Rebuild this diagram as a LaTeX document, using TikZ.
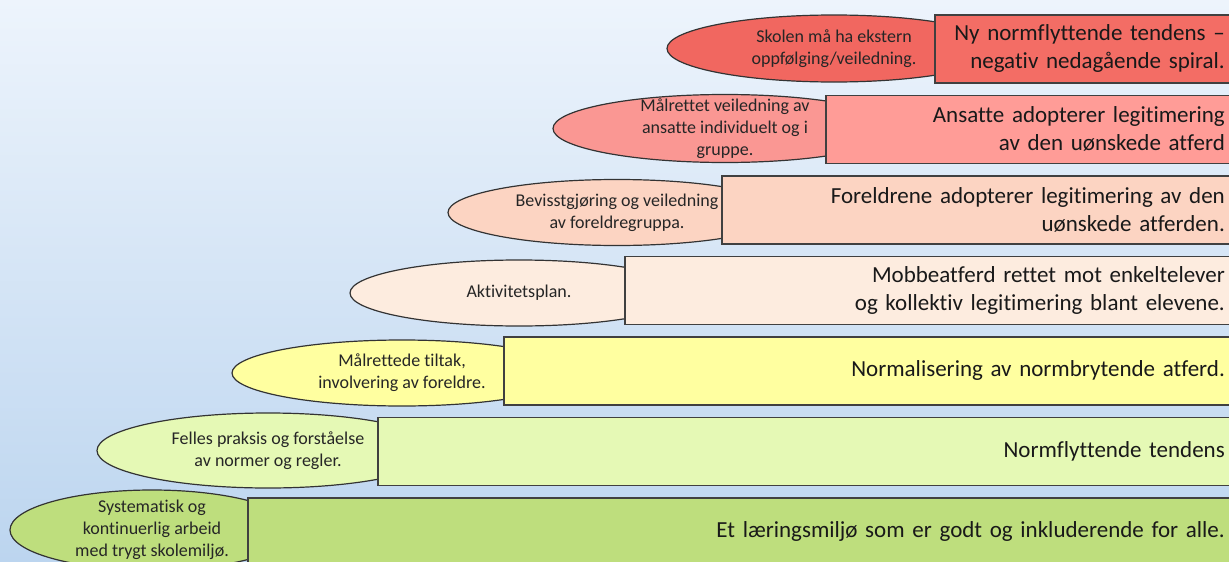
\documentclass[tikz,border=0pt]{standalone}
\usepackage{fontspec}
\setmainfont{Carlito}[Ligatures={NoCommon}]
\usepackage{tikz}
\usetikzlibrary{shapes.geometric, positioning}

\definecolor{bgtop}{RGB}{237,244,252}
\definecolor{bgbottom}{RGB}{188,213,239}
\definecolor{rad1}{RGB}{241,103,96}
\definecolor{rad1b}{RGB}{243,109,101}
\definecolor{rad2}{RGB}{250,151,147}
\definecolor{rad2b}{RGB}{255,156,151}
\definecolor{rad3}{RGB}{252,212,194}
\definecolor{rad4}{RGB}{253,236,223}
\definecolor{rad5}{RGB}{255,255,160}
\definecolor{rad6}{RGB}{229,249,181}
\definecolor{rad7}{RGB}{190,222,125}

\begin{document}
\begin{tikzpicture}[x=1pt,y=-1pt]
	\tikzstyle{tiltak}=[ellipse, draw=black!80, line width=1.2pt, inner sep=0pt]
	\tikzstyle{tiltaktekst}=[align=center, inner sep=0pt, text=black!85, font=\fontsize{18}{22}\selectfont]
	\tikzstyle{norm}=[rectangle, draw=black!75, line width=1.6pt, anchor=north west, minimum height=68pt, inner xsep=8pt, align=right, text=black!90, font=\fontsize{23}{28}\selectfont]
	
	\useasboundingbox (0,0) rectangle (1229,562);
	\clip (0,0) rectangle (1229,562);
	\fill[top color=bgtop, bottom color=bgbottom] (0,0) rectangle (1229,562);
	
	% tiltak (ellipser)
	\node[tiltak, fill=rad1, minimum width=334pt, minimum height=67pt] (t1) at (834,48.5) {};
	\node[tiltak, fill=rad2, minimum width=344pt, minimum height=68pt] (t2) at (725,128.5) {};
	\node[tiltak, fill=rad3, minimum width=338pt, minimum height=66pt] (t3) at (617,212.5) {};
	\node[tiltak, fill=rad4, minimum width=338pt, minimum height=66pt] (t4) at (519,293) {};
	\node[tiltak, fill=rad5, minimum width=340pt, minimum height=66pt] (t5) at (402,373) {};
	\node[tiltak, fill=rad6, minimum width=342pt, minimum height=75pt] (t6) at (268,450.5) {};
	\node[tiltak, fill=rad7, minimum width=284pt, minimum height=80pt] (t7) at (152,530) {};
	
	\node[tiltaktekst] at (t1) {Skolen må ha ekstern\\oppfølging/veiledning.};
	\node[tiltaktekst] at (t2) {Målrettet veiledning av\\ansatte individuelt og i\\gruppe.};
	\node[tiltaktekst] at (t3) {Bevisstgjøring og veiledning\\av foreldregruppa.};
	\node[tiltaktekst] at (t4) {Aktivitetsplan.};
	\node[tiltaktekst] at (t5) {Målrettede tiltak,\\involvering av foreldre.};
	\node[tiltaktekst] at (t6) {Felles praksis og forståelse\\av normer og regler.};
	\node[tiltaktekst] at (t7) {Systematisk og\\kontinuerlig arbeid\\med trygt skolemiljø.};
	
	% normtrinn (rektangler)
	\node[norm, fill=rad1b, text width=282pt] (n1) at (934,14) {Ny normflyttende tendens –\\negativ nedagående spiral.};
	\node[norm, fill=rad2b, text width=391pt] (n2) at (825,94.5) {Ansatte adopterer legitimering\\av den uønskede atferd};
	\node[norm, fill=rad3, text width=495pt] (n3) at (721,175) {Foreldrene adopterer legitimering av den\\uønskede atferden.};
	\node[norm, fill=rad4, text width=592pt] (n4) at (624,255.5) {Mobbeatferd rettet mot enkeltelever\\og kollektiv legitimering blant elevene.};
	\node[norm, fill=rad5, text width=713pt] (n5) at (503,336) {Normalisering av normbrytende atferd.};
	\node[norm, fill=rad6, text width=839pt] (n6) at (377,416.5) {Normflyttende tendens};
	\node[norm, fill=rad7, text width=969pt] (n7) at (247,497) {Et læringsmiljø som er godt og inkluderende for alle.};
	
\end{tikzpicture}
\end{document}
